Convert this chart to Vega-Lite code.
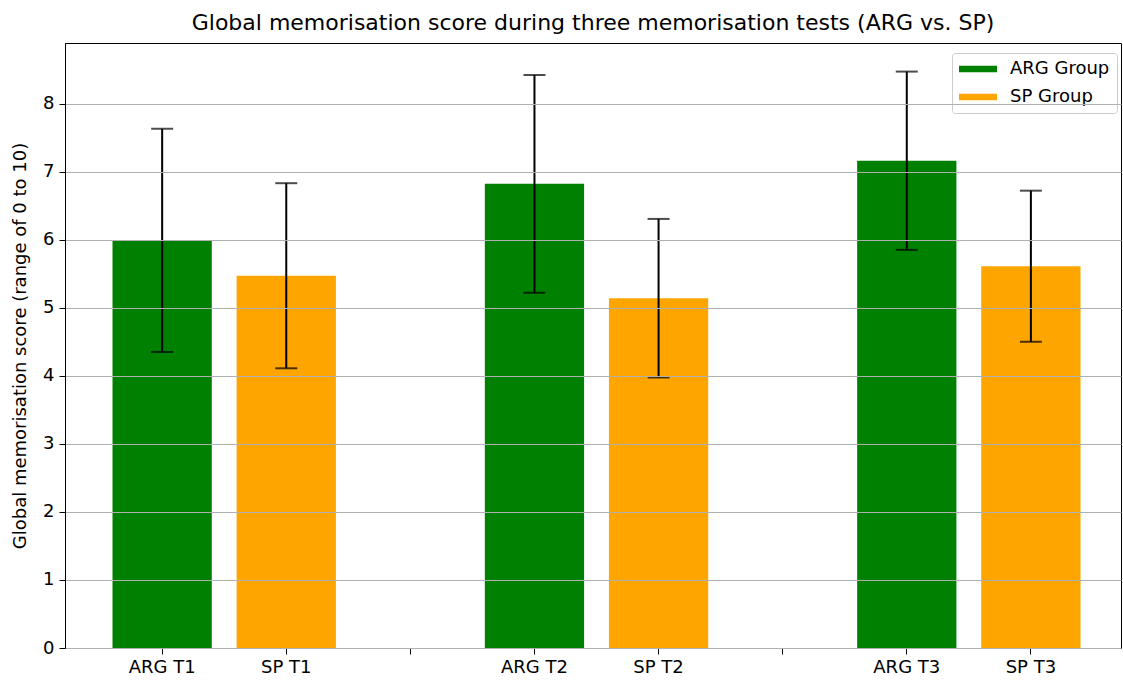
{
  "$schema": "https://vega.github.io/schema/vega-lite/v6.json",
  "width": 1056,
  "height": 605,
  "autosize": {"type": "none"},
  "padding": {"left": 65, "top": 43, "right": 2, "bottom": 32},
  "title": {
    "text": "Global memorisation score during three memorisation tests (ARG vs. SP)",
    "fontSize": 22,
    "fontWeight": "normal",
    "font": "DejaVu Sans",
    "color": "black",
    "anchor": "middle",
    "offset": 8
  },
  "config": {
    "font": "DejaVu Sans",
    "view": {"stroke": "black", "strokeWidth": 1}
  },
  "data": {
    "values": [
      {"label": "ARG T1", "group": "ARG Group", "mean": 5.99, "sd": 1.64},
      {"label": "SP T1", "group": "SP Group", "mean": 5.47, "sd": 1.36},
      {"label": "ARG T2", "group": "ARG Group", "mean": 6.82, "sd": 1.6},
      {"label": "SP T2", "group": "SP Group", "mean": 5.14, "sd": 1.165},
      {"label": "ARG T3", "group": "ARG Group", "mean": 7.16, "sd": 1.31},
      {"label": "SP T3", "group": "SP Group", "mean": 5.61, "sd": 1.11}
    ]
  },
  "encoding": {
    "x": {
      "field": "label",
      "type": "nominal",
      "sort": null,
      "scale": {
        "domain": ["ARG T1", "SP T1", "gap1", "ARG T2", "SP T2", "gap2", "ARG T3", "SP T3"],
        "paddingInner": 0.2,
        "paddingOuter": 0.3545,
        "align": 0.54
      },
      "axis": {
        "title": null,
        "labelAngle": 0,
        "labelFontSize": 18,
        "labelColor": "black",
        "tickColor": "black",
        "tickSize": 6,
        "labelPadding": 4,
        "domainColor": "black",
        "labelExpr": "indexof(datum.value, 'gap') == 0 ? '' : datum.value"
      }
    }
  },
  "layer": [
    {
      "mark": {"type": "bar"},
      "encoding": {
        "y": {
          "field": "mean",
          "type": "quantitative",
          "title": "Global memorisation score (range of 0 to 10)",
          "scale": {"domain": [0, 8.89], "nice": false, "zero": true},
          "axis": {
            "titleFontSize": 18,
            "titleFontWeight": "normal",
            "titleColor": "black",
            "labelFontSize": 18,
            "labelColor": "black",
            "values": [0, 1, 2, 3, 4, 5, 6, 7, 8],
            "format": "d",
            "tickSize": 6,
            "tickColor": "black",
            "labelPadding": 5,
            "domainColor": "black",
            "gridColor": "#b0b0b0",
            "gridWidth": 1,
            "zindex": 1,
            "titlePadding": 13
          }
        },
        "color": {
          "field": "group",
          "type": "nominal",
          "scale": {"domain": ["ARG Group", "SP Group"], "range": ["#008000", "#ffa500"]},
          "legend": {
            "title": null,
            "orient": "none",
            "legendX": 887,
            "legendY": 10,
            "symbolType": "M-1,-0.17L1,-0.17L1,0.17L-1,0.17Z",
            "symbolSize": 1444,
            "symbolStrokeWidth": 0,
            "symbolOpacity": 1,
            "labelFontSize": 18,
            "labelColor": "black",
            "labelOffset": 13,
            "clipHeight": 18,
            "rowPadding": 10,
            "padding": 7,
            "strokeColor": "#cccccc",
            "fillColor": "rgba(255,255,255,0.8)",
            "cornerRadius": 3
          }
        }
      }
    },
    {
      "mark": {
        "type": "errorbar",
        "color": "black",
        "thickness": 2,
        "ticks": {"size": 22, "thickness": 2, "color": "black"}
      },
      "encoding": {
        "y": {"field": "mean", "type": "quantitative", "title": "Global memorisation score (range of 0 to 10)"},
        "yError": {"field": "sd"}
      }
    }
  ]
}
